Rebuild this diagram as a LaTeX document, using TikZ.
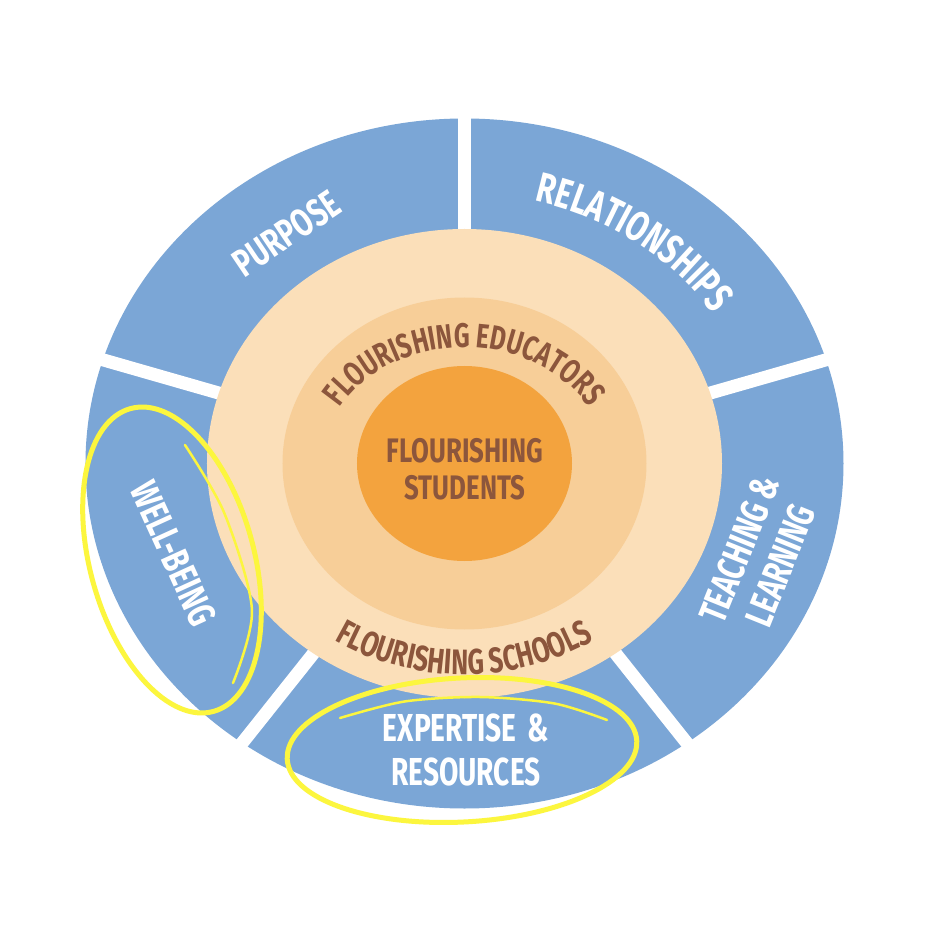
\documentclass[tikz,border=0pt]{standalone}
\usepackage{fontspec}
\usetikzlibrary{decorations.text}
\newfontfamily\lblfont[FakeStretch=0.72]{Fira Sans}
\newfontfamily\corelblfont[FakeStretch=0.76]{Fira Sans}
\definecolor{segblue}{RGB}{123,166,214}
\definecolor{peachlight}{RGB}{251,223,185}
\definecolor{peachmid}{RGB}{247,206,152}
\definecolor{coreorange}{RGB}{243,163,62}
\definecolor{corebrown}{RGB}{140,86,60}
\definecolor{hlyellow}{RGB}{252,246,62}
\newcommand{\segfont}{\lblfont\bfseries\fontsize{39}{44}\selectfont}
\newcommand{\relfont}{\lblfont\bfseries\fontsize{42}{44}\selectfont}
\newcommand{\corefont}{\corelblfont\bfseries\fontsize{34}{37}\selectfont}
\newcommand{\ringfont}{\lblfont\bfseries\fontsize{34}{36}\selectfont}
\newcommand{\schoolfont}{\lblfont\bfseries\fontsize{35.5}{36}\selectfont}
\begin{document}
\begin{tikzpicture}[x=1pt,y=1pt,
  seglabel/.style={text=white, font=\segfont, align=center, inner sep=0pt},
  corelabel/.style={text=corebrown, font=\corefont, align=center, inner sep=0pt},
  gapline/.style={white, line width=13pt},
  highlight/.style={draw=hlyellow, line width=5pt},
  highlightthin/.style={draw=hlyellow, line width=2.5pt, line cap=round},
]
\useasboundingbox (-464.5,-465.5) rectangle (464.5,463.5);
\fill[white] (-464.5,-465.5) rectangle (464.5,463.5);
% rings
\fill[segblue] (0,0) ellipse [x radius=379, y radius=345];
\foreach \a in {90,16,164,-51.5,-128.5} \draw[gapline] (0,0) -- (\a:420);
\fill[peachlight] (0,0) ellipse [x radius=257.5, y radius=234.5];
\fill[peachmid] (0,0) ellipse [x radius=182, y radius=166];
\fill[coreorange] (0,0) ellipse [x radius=107.5, y radius=97.5];
% segment labels
\node[seglabel, rotate=34] (purpose) at (-178,230) {PURPOSE};
\path[decorate, decoration={text along path, text={|\relfont|RELATIONSHIPS}, text align=center, text color=white}]
  (100:299 and 270) arc [start angle=100, end angle=8, x radius=299, y radius=270];
\node[seglabel, rotate=68] (teaching) at (295.5,-93.5) {TEACHING \&\\LEARNING};
\node[seglabel] (expertise) at (1.5,-286.5) {EXPERTISE\hspace{11pt}\&\\RESOURCES};
\node[seglabel, rotate=-65.5] (wellbeing) at (-291,-90) {WELL-BEING};
% core labels
\node[corelabel] (students) at (0.5,-5.5) {FLOURISHING\\STUDENTS};
\path[decorate, decoration={text along path, text={|\ringfont|FLOURISHING EDUCATORS}, text align=center, text color=corebrown}]
  (180:142 and 116) arc [start angle=180, end angle=0, x radius=142, y radius=116];
\path[decorate, decoration={text along path, text={|\schoolfont|FLOURISHING SCHOOLS}, text align=center, text color=corebrown}]
  (200:238 and 211) arc [start angle=200, end angle=340, x radius=238, y radius=211];
% highlights
\draw[highlight, rotate around={-74.7:(-292.5,-96.5)}] (-292.5,-96.5) ellipse [x radius=157, y radius=82];
\draw[highlightthin] plot[smooth] coordinates {(-279.5,18.5) (-240,-50) (-212.5,-146.5) (-231.5,-219.5)};
\draw[highlight, rotate around={3:(-2.5,-286.5)}] (-2.5,-286.5) ellipse [x radius=175, y radius=72];
\draw[highlightthin] plot[smooth] coordinates {(-124.5,-254.5) (-60,-238) (15.5,-233.5) (90,-240) (142.5,-256.5)};
\end{tikzpicture}
\end{document}
